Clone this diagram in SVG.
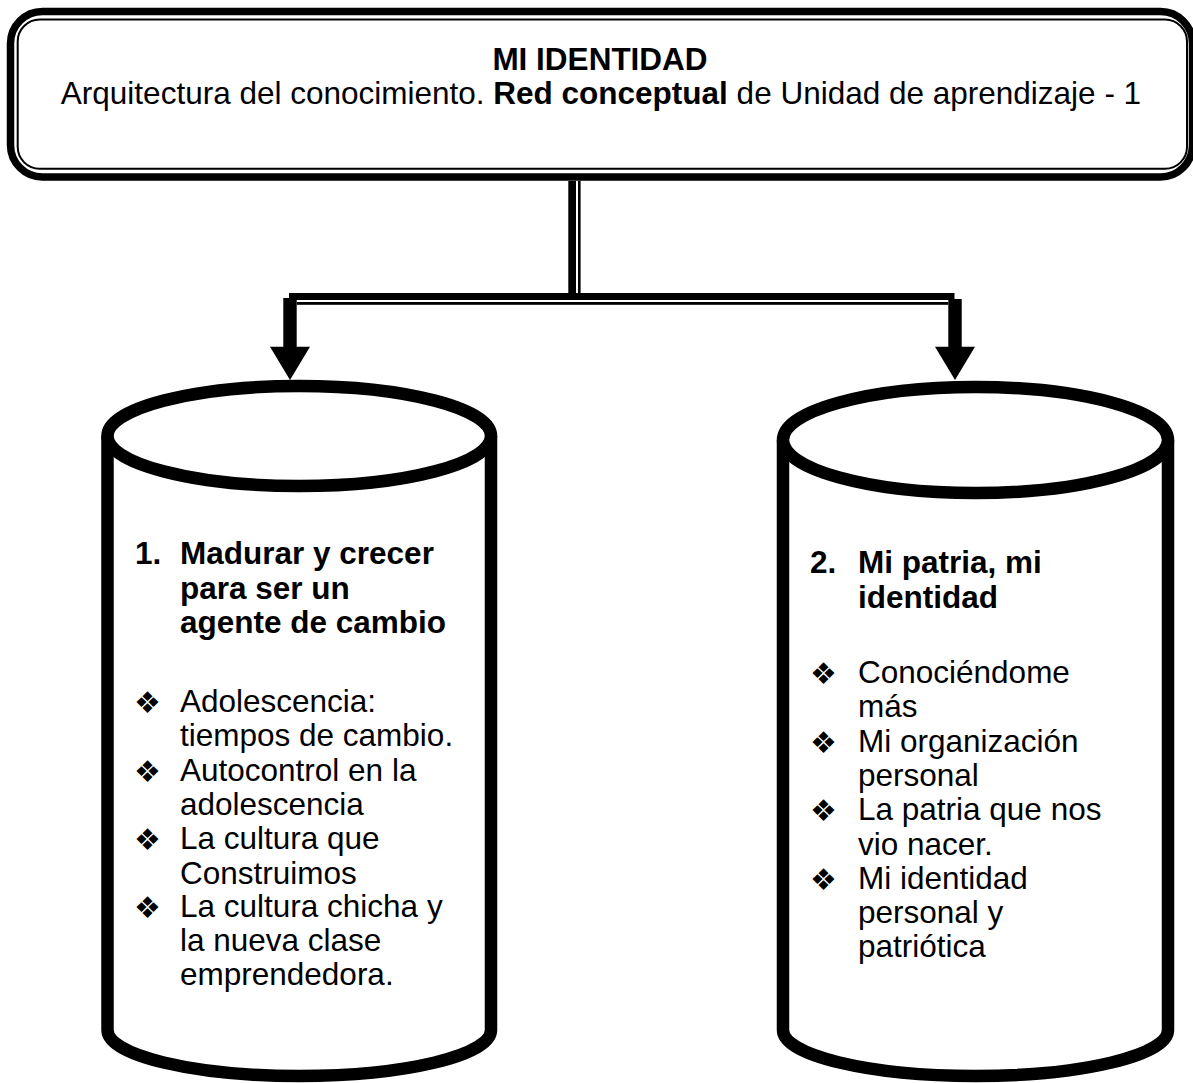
<svg xmlns="http://www.w3.org/2000/svg" width="1193" height="1083" viewBox="0 0 1193 1083">
<style>
.t{font-family:"Liberation Sans",Arial,sans-serif;font-size:31.5px;fill:#000}
.b{font-weight:bold}
.bul{font-family:"DejaVu Sans",sans-serif;font-size:30px;fill:#000}
.cyl{fill:#fff;stroke:#000;stroke-width:12.5}
</style>
<rect width="1193" height="1083" fill="#fff"/>
<g id="title">
<rect x="10.5" y="11.5" width="1182" height="165.5" rx="32" fill="#fff" stroke="#000" stroke-width="7.5"/>
<rect x="17.7" y="19.5" width="1169.3" height="149.3" rx="22" fill="none" stroke="#000" stroke-width="2"/>
<text class="t b" x="600" y="69.5" text-anchor="middle">MI IDENTIDAD</text>
<text class="t" x="601" y="104" text-anchor="middle">Arquitectura del conocimiento. <tspan class="b">Red conceptual</tspan> de Unidad de aprendizaje - 1</text>
</g>
<g id="connectors">
<rect x="568.3" y="181" width="7.7" height="113" fill="#000"/>
<rect x="578" y="181" width="2.6" height="113" fill="#000"/>
<rect x="289" y="293" width="665.5" height="7" fill="#000"/>
<rect x="296.7" y="302" width="651.6" height="2.8" fill="#000"/>
<rect x="283.3" y="298" width="13.4" height="50" fill="#000"/>
<polygon points="270,346.7 310,346.7 290,380" fill="#000"/>
<rect x="948.3" y="299" width="13.4" height="49" fill="#000"/>
<polygon points="935,346.7 975,346.7 955,380" fill="#000"/>
</g>
<g id="node1">
<path class="cyl" d="M107.5,436 L107.5,1030 A191.75,46 0 0 0 491,1030 L491,436"/>
<ellipse class="cyl" cx="299.25" cy="436" rx="191.75" ry="50"/>
<text class="t b" x="135" y="564.3">1.</text>
<text class="t b" x="180" y="564.3">Madurar y crecer</text>
<text class="t b" x="180" y="598.6">para ser un</text>
<text class="t b" x="180" y="632.9">agente de cambio</text>
<text class="bul" x="134" y="713">❖</text>
<text class="t" x="180" y="712">Adolescencia:</text>
<text class="t" x="180" y="746.3">tiempos de cambio.</text>
<text class="bul" x="134" y="781.6">❖</text>
<text class="t" x="180" y="780.6">Autocontrol en la</text>
<text class="t" x="180" y="814.9">adolescencia</text>
<text class="bul" x="134" y="850.2">❖</text>
<text class="t" x="180" y="849.2">La cultura que</text>
<text class="t" x="180" y="883.5">Construimos</text>
<text class="bul" x="134" y="918">❖</text>
<text class="t" x="180" y="917">La cultura chicha y</text>
<text class="t" x="180" y="951">la nueva clase</text>
<text class="t" x="180" y="985">emprendedora.</text>
</g>
<g id="node2">
<path class="cyl" d="M783,440 L783,1030 A192.5,46 0 0 0 1168,1030 L1168,440"/>
<ellipse class="cyl" cx="975.5" cy="440" rx="192.5" ry="53"/>
<text class="t b" x="810" y="573">2.</text>
<text class="t b" x="858" y="573">Mi patria, mi</text>
<text class="t b" x="858" y="607.5">identidad</text>
<text class="bul" x="810" y="684">❖</text>
<text class="t" x="858" y="683">Conociéndome</text>
<text class="t" x="858" y="717.3">más</text>
<text class="bul" x="810" y="752.6">❖</text>
<text class="t" x="858" y="751.6">Mi organización</text>
<text class="t" x="858" y="785.9">personal</text>
<text class="bul" x="810" y="821.2">❖</text>
<text class="t" x="858" y="820.2">La patria que nos</text>
<text class="t" x="858" y="854.5">vio nacer.</text>
<text class="bul" x="810" y="889.8">❖</text>
<text class="t" x="858" y="888.8">Mi identidad</text>
<text class="t" x="858" y="923.1">personal y</text>
<text class="t" x="858" y="957.4">patriótica</text>
</g>
</svg>
